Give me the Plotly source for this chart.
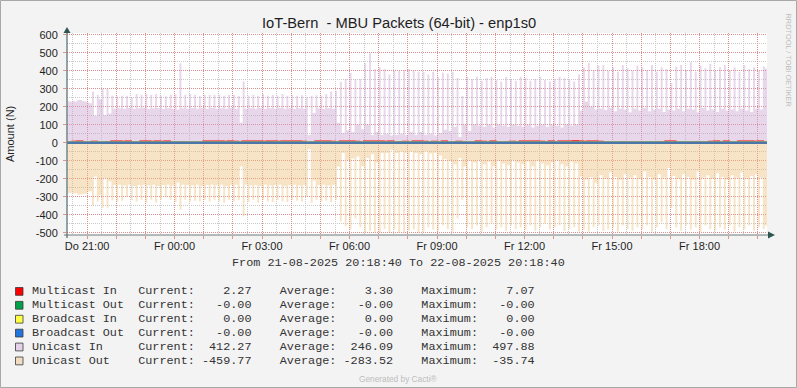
import plotly.graph_objects as go
import pandas as pd

# ---------------- data ----------------
# 10-minute periods starting 2025-08-21 20:20; each period = short spike then base
unicast_in_spike = [
    232, 234, 240, 232, 224, 285, 267, 300, 300, 262,
    259, 262, 262, 255, 272, 267, 272, 267, 272, 262,
    259, 267, 270, 443, 267, 272, 267, 259, 267, 267,
    267, 267, 262, 267, 267, 260, 341, 262, 267, 262,
    272, 262, 267, 262, 272, 262, 267, 262, 265, 255,
    262, 265, 262, 270, 285, 289, 340, 355, 390, 355,
    355, 444, 498, 411, 422, 411, 380, 400, 400, 405,
    411, 400, 395, 394, 380, 396, 367, 390, 385, 394,
    360, 261, 367, 355, 367, 345, 360, 367, 350, 341,
    367, 355, 345, 367, 360, 345, 355, 367, 350, 341,
    355, 367, 360, 350, 341, 380, 420, 444, 405, 430,
    433, 400, 420, 396, 433, 415, 400, 430, 420, 405,
    433, 396, 420, 410, 333, 425, 433, 405, 450, 396,
    430, 415, 440, 400, 420, 433, 405, 420, 396, 433,
    410, 420, 400, 425,
]
unicast_in_base = [
    228, 230, 238, 230, 220, 150, 243, 155, 163, 189,
    192, 189, 194, 189, 192, 194, 189, 192, 194, 189,
    192, 189, 185, 192, 189, 194, 189, 192, 189, 194,
    189, 192, 189, 194, 189, 113, 189, 192, 189, 194,
    189, 192, 189, 194, 189, 192, 189, 192, 189, 44,
    166, 192, 189, 192, 189, 111, 55, 70, 60, 100,
    75, 100, 44, 60, 44, 50, 40, 44, 50, 44,
    60, 44, 60, 44, 50, 40, 55, 72, 66, 90,
    33, 100, 66, 100, 95, 90, 100, 85, 100, 95,
    90, 100, 95, 90, 100, 85, 95, 100, 90, 100,
    95, 85, 100, 95, 100, 180, 228, 200, 185, 190,
    183, 194, 175, 190, 185, 170, 190, 180, 194, 175,
    185, 190, 172, 185, 180, 190, 175, 190, 185, 170,
    194, 180, 185, 172, 190, 180, 185, 175, 190, 180,
    172, 190, 185, 412.27,
]
unicast_out_spike = [
    -280, -283, -289, -285, -272, -350, -327, -361, -361, -320,
    -326, -322, -300, -318, -326, -317, -333, -317, -333, -317,
    -305, -317, -330, -372, -317, -326, -322, -326, -317, -326,
    -317, -326, -333, -317, -326, -320, -409, -330, -317, -333,
    -317, -326, -330, -317, -326, -330, -317, -322, -326, -300,
    -333, -317, -326, -322, -330, -317, -437, -465, -483, -420,
    -470, -500, -490, -500, -500, -480, -500, -483, -500, -500,
    -490, -483, -500, -494, -470, -483, -490, -460, -480, -494,
    -420, -317, -470, -480, -460, -494, -470, -450, -483, -470,
    -490, -460, -480, -470, -483, -460, -490, -470, -450, -483,
    -470, -460, -490, -480, -470, -494, -483, -494, -470, -460,
    -490, -483, -470, -494, -460, -480, -490, -470, -483, -460,
    -494, -470, -444, -480, -361, -470, -490, -460, -483, -470,
    -494, -460, -480, -490, -470, -483, -460, -494, -470, -483,
    -460, -490, -470, -480,
]
unicast_out_base = [
    -278, -280, -287, -283, -270, -187, -290, -197, -215, -235,
    -233, -238, -233, -240, -235, -233, -238, -233, -240, -235,
    -233, -238, -222, -233, -235, -238, -233, -240, -235, -233,
    -238, -233, -240, -235, -233, -132, -233, -238, -235, -240,
    -233, -238, -235, -233, -240, -235, -233, -238, -235, -35.74,
    -210, -235, -233, -238, -233, -132, -57, -94, -88, -76,
    -130, -85, -63, -111, -57, -57, -39, -57, -50, -57,
    -50, -57, -63, -48, -60, -55, -70, -90, -100, -120,
    -85, -132, -100, -110, -95, -120, -105, -130, -100, -115,
    -125, -95, -110, -120, -105, -130, -100, -115, -125, -110,
    -95, -120, -130, -105, -115, -187, -205, -190, -222, -180,
    -200, -165, -190, -205, -175, -195, -180, -200, -160, -190,
    -205, -175, -195, -140, -185, -200, -175, -190, -205, -160,
    -195, -180, -200, -170, -190, -205, -180, -195, -165, -200,
    -185, -175, -195, -459.77,
]
multicast_in = [
    1.0, 5.4, 5.8, 0.9, 1.2, 5.2, 1.1, 0.8, 1.3, 5.5,
    5.7, 5.3, 5.6, 1.0, 1.2, 5.5, 5.9, 5.4, 5.6, 5.2,
    5.5, 1.1, 0.9, 1.3, 1.0, 1.2, 0.8, 1.1, 5.8, 5.5,
    6.0, 5.6, 5.4, 5.7, 5.3, 1.0, 5.6, 5.8, 5.5, 5.9,
    5.4, 5.7, 5.6, 5.3, 5.8, 5.5, 5.6, 5.9, 5.4, 0.9,
    1.2, 5.6, 5.5, 5.8, 5.4, 1.1, 5.7, 5.5, 5.6, 5.4,
    1.0, 5.6, 5.9, 5.5, 5.7, 5.4, 5.6, 1.1, 1.3, 5.3,
    1.0, 5.6, 5.5, 5.4, 1.2, 5.3, 0.9, 5.5, 1.1, 1.0,
    5.4, 1.3, 0.9, 1.1, 5.6, 5.4, 1.0, 5.5, 1.2, 0.9,
    1.1, 5.4, 1.0, 5.7, 5.5, 5.6, 5.8, 5.4, 1.1, 5.5,
    1.2, 5.6, 5.9, 5.5, 7.07, 5.7, 5.4, 5.6, 5.5, 5.3,
    1.0, 1.2, 0.9, 1.1, 1.3, 1.0, 0.8, 1.2, 1.1, 0.9,
    1.0, 1.3, 1.1, 5.5, 5.6, 1.0, 1.2, 0.9, 1.1, 1.3,
    1.0, 1.2, 5.4, 5.7, 1.1, 5.5, 1.0, 1.2, 5.6, 5.5,
    5.8, 5.4, 5.5, 2.27,
]
zero_series_value = 0.0   # Multicast Out, Broadcast In, Broadcast Out are flat at 0

legend_labels = ["Multicast In", "Multicast Out", "Broadcast In",
                 "Broadcast Out", "Unicast In", "Unicast Out"]
legend_current = [2.27, -0.0, 0.0, -0.0, 412.27, -459.77]
legend_average = [3.30, -0.0, 0.0, -0.0, 246.09, -283.52]
legend_maximum = [7.07, -0.0, 0.0, -0.0, 497.88, -35.74]
legend_colors = ["#FF0000", "#00A04A", "#FFFF44", "#2174D9", "#E4D3E8", "#F1DEC2"]

y_tick_values = [-500, -400, -300, -200, -100, 0, 100, 200, 300, 400, 500, 600]
range_start = "2025-08-21 20:18:40"
range_end = "2025-08-22 20:18:40"
first_period = "2025-08-21 20:20:00"
day_names = {3: "Do", 4: "Fr"}

# ---------------- geometry ----------------
W, H = 797, 388
L, R, T, B = 67, 30, 33, 153
PW, PH = W - L - R, H - T - B


def px(x):
    return (x - L) / PW


def py(y):
    return (H - B - y) / PH


periods = pd.date_range(first_period, periods=len(unicast_in_spike), freq="10min")
spike_len = pd.Timedelta(minutes=4)
end_t = pd.Timestamp(range_end)

x_area = []
for p in periods:
    x_area += [p, p + spike_len]
x_area.append(end_t)


def interleave(spk, base):
    out = []
    for a, b in zip(spk, base):
        out += [a, b]
    out.append(base[-1])
    return out


x_line = list(periods) + [end_t]

fig = go.Figure()
fig.add_trace(go.Scatter(
    x=x_area, y=interleave(unicast_in_spike, unicast_in_base), mode="lines",
    line=dict(width=0, shape="hv"), fill="tozeroy",
    fillcolor="rgba(200,160,206,0.42)", hoverinfo="skip", showlegend=False))
fig.add_trace(go.Scatter(
    x=x_area, y=interleave(unicast_out_spike, unicast_out_base), mode="lines",
    line=dict(width=0, shape="hv"), fill="tozeroy",
    fillcolor="rgba(236,190,122,0.42)", hoverinfo="skip", showlegend=False))
fig.add_trace(go.Scatter(
    x=x_line, y=multicast_in + [multicast_in[-1]], mode="lines",
    line=dict(color="#FF0000", width=2.4, shape="hv"), showlegend=False))
for col in ["#00A04A", "#FFFF44", "#4A76AC"]:
    fig.add_trace(go.Scatter(
        x=x_line, y=[zero_series_value] * len(x_line), mode="lines",
        line=dict(color=col, width=2.4), showlegend=False))

# x ticks: hourly grid, labels every 3 h
hours = pd.date_range("2025-08-21 21:00", "2025-08-22 20:00", freq="h")
tick_text = [f"{day_names[h.weekday()]} {h:%H:%M}" if h.hour % 3 == 0 else "" for h in hours]

RED_GRID = "rgba(226,140,140,0.95)"
GREY_GRID = "#C9C9C9"
AXIS_COL = "#4F6B6B"
TICK_FONT = dict(family="Liberation Sans, Arial", size=11, color="#1E1E1E")

fig.update_xaxes(
    range=[range_start, range_end], tickmode="array", tickvals=list(hours), ticktext=tick_text,
    showgrid=True, gridcolor=RED_GRID, griddash="1px,1px", gridwidth=1,
    ticks="outside", ticklen=3, tickcolor=RED_GRID, tickfont=TICK_FONT,
    ticklabelstandoff=-2,
    minor=dict(dtick=1800000, tick0="2025-08-21 20:30", showgrid=True,
               gridcolor=GREY_GRID, griddash="1px,1px", ticks=""),
    showline=False, zeroline=False, fixedrange=True)
fig.update_yaxes(
    range=[-513, 611], tickmode="array", tickvals=y_tick_values,
    ticktext=[str(v) for v in y_tick_values],
    showgrid=True, gridcolor=RED_GRID, griddash="1px,1px", gridwidth=1,
    ticks="outside", ticklen=3, tickcolor=RED_GRID, tickfont=TICK_FONT,
    ticklabelstandoff=3,
    minor=dict(dtick=50, tick0=0, showgrid=True, gridcolor=GREY_GRID,
               griddash="1px,1px", ticks=""),
    showline=False, zeroline=False, fixedrange=True)

shapes = []
# axes lines + arrows
shapes.append(dict(type="line", xref="paper", yref="paper", x0=px(64), x1=px(770),
                   y0=py(235), y1=py(235), line=dict(color="#6E7878", width=1)))
shapes.append(dict(type="line", xref="paper", yref="paper", x0=px(67), x1=px(67),
                   y0=py(238), y1=py(31), line=dict(color=AXIS_COL, width=1.2)))
shapes.append(dict(type="path", xref="paper", yref="paper",
                   path=f"M {px(63.5)} {py(33)} L {px(70.5)} {py(33)} L {px(67)} {py(27)} Z",
                   fillcolor="#2F5550", line=dict(width=0)))
shapes.append(dict(type="path", xref="paper", yref="paper",
                   path=f"M {px(768)} {py(231.5)} L {px(768)} {py(238.5)} L {px(775)} {py(235)} Z",
                   fillcolor="#2F5550", line=dict(width=0)))
# outer frame
shapes.append(dict(type="rect", xref="paper", yref="paper", x0=px(0.5), x1=px(796.5),
                   y0=py(387.5), y1=py(0.5), line=dict(color="#A8A8A8", width=1)))

annotations = []
annotations.append(dict(text="IoT-Bern\u00a0\u00a0- MBU Packets (64-bit) - enp1s0",
                        x=px(398.5), y=py(23.5), xref="paper", yref="paper",
                        showarrow=False, xanchor="center", yanchor="middle",
                        font=dict(family="Liberation Sans, Arial", size=14.7, color="#1E1E1E")))
annotations.append(dict(text="Amount (N)", x=px(10), y=py(134), xref="paper", yref="paper",
                        showarrow=False, textangle=-90, xanchor="center", yanchor="middle",
                        font=dict(family="Liberation Sans, Arial", size=11, color="#1E1E1E")))
annotations.append(dict(text="RRDTOOL / TOBI OETIKER", x=px(788.5), y=py(60), xref="paper",
                        yref="paper", showarrow=False, textangle=90, xanchor="center",
                        yanchor="middle",
                        font=dict(family="Liberation Sans, Arial", size=7.4, color="#BDBDBD")))
annotations.append(dict(text=f"From 21-08-2025 20:18:40 To 22-08-2025 20:18:40",
                        x=px(398.5), y=py(263), xref="paper", yref="paper", showarrow=False,
                        xanchor="center", yanchor="middle",
                        font=dict(family="Liberation Mono, monospace", size=11.8, color="#333333")))
annotations.append(dict(text="Generated by Cacti®", x=px(398), y=py(378.5), xref="paper",
                        yref="paper", showarrow=False, xanchor="center", yanchor="middle",
                        font=dict(family="Liberation Sans, Arial", size=8.3, color="#BDBDBD")))

row_y = [291.3, 305.2, 319.1, 333.0, 346.9, 360.8]
for i, lab in enumerate(legend_labels):
    line = (f"{lab:<15}Current:{legend_current[i]:8.2f}    Average:{legend_average[i]:8.2f}"
            f"    Maximum:{legend_maximum[i]:8.2f}").replace(" ", "\u00a0")
    annotations.append(dict(text=line, x=px(30), y=py(row_y[i]), xref="paper", yref="paper",
                            showarrow=False, xanchor="left", yanchor="middle",
                            font=dict(family="Liberation Mono, monospace", size=11.8,
                                      color="#333333")))
    shapes.append(dict(type="rect", xref="paper", yref="paper", x0=px(15.5), x1=px(23),
                       y0=py(row_y[i] + 4), y1=py(row_y[i] - 3.8),
                       fillcolor=legend_colors[i], line=dict(color="#3A3A3A", width=0.8)))

fig.update_layout(
    width=W, height=H, margin=dict(l=L, r=R, t=T, b=B, pad=0),
    paper_bgcolor="#F3F3F3", plot_bgcolor="#FFFFFF",
    shapes=shapes, annotations=annotations, showlegend=False,
    hovermode=False,
)

fig.write_html("out.html", config={"displayModeBar": False},
               post_script="document.body.style.margin='0';document.body.style.overflow='hidden';")
